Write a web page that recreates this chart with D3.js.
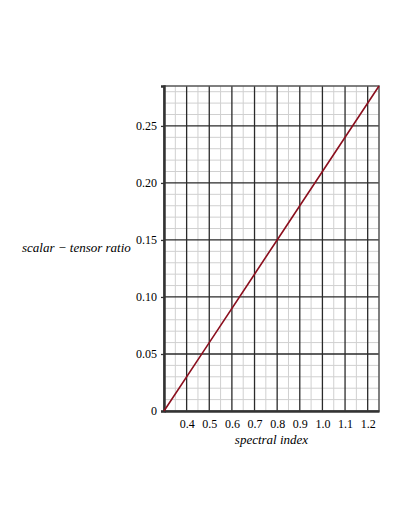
<!DOCTYPE html>
<html>
<head>
<meta charset="utf-8">
<script src="https://cdn.jsdelivr.net/npm/d3@7"></script>
<style>
  body { margin: 0; background: #fff; }
</style>
</head>
<body>
<script>
// spectral index vs scalar-tensor ratio
var spectralIndex = [0.3, 0.5, 0.8, 1.0, 1.25];
var tensorRatio = [0, 0.06, 0.15, 0.21, 0.285];
var xTicks = [0.4, 0.5, 0.6, 0.7, 0.8, 0.9, 1.0, 1.1, 1.2];
var yTicks = [0, 0.05, 0.10, 0.15, 0.20, 0.25];

var w = 409, h = 529;
var pLeft = 164, pRight = 379, pTop = 86, pBottom = 411;
var serif = "'Liberation Serif', 'DejaVu Serif', serif";

var svg = d3.select("body")
    .append("svg")
    .attr("width", w)
    .attr("height", h);

var x = d3.scaleLinear().domain([0.3, 1.25]).range([pLeft, pRight]);
var y = d3.scaleLinear().domain([0, 0.285]).range([pBottom, pTop]);

// minor grid
var xMinor = d3.range(0.35, 1.25, 0.1).map(function(d){ return +d.toFixed(2); });
var yMinor = d3.range(0.01, 0.285, 0.01).map(function(d){ return +d.toFixed(2); })
    .filter(function(d){ return Math.round(d * 100) % 5 != 0; });

svg.append("g").selectAll("line")
    .data(xMinor)
    .enter().append("line")
    .attr("x1", function(d){ return x(d); })
    .attr("x2", function(d){ return x(d); })
    .attr("y1", pTop).attr("y2", pBottom)
    .attr("stroke", "#d0d0d0").attr("stroke-width", 1);

svg.append("g").selectAll("line")
    .data(yMinor)
    .enter().append("line")
    .attr("x1", pLeft).attr("x2", pRight)
    .attr("y1", function(d){ return y(d); })
    .attr("y2", function(d){ return y(d); })
    .attr("stroke", "#d0d0d0").attr("stroke-width", 1);

// major grid
svg.append("g").selectAll("line")
    .data(xTicks)
    .enter().append("line")
    .attr("x1", function(d){ return x(d); })
    .attr("x2", function(d){ return x(d); })
    .attr("y1", pTop).attr("y2", pBottom)
    .attr("stroke", "#2a2a2a").attr("stroke-width", 1.3);

svg.append("g").selectAll("line")
    .data(yTicks.slice(1))
    .enter().append("line")
    .attr("x1", pLeft).attr("x2", pRight)
    .attr("y1", function(d){ return y(d); })
    .attr("y2", function(d){ return y(d); })
    .attr("stroke", "#2a2a2a").attr("stroke-width", 1.3);

// frame
svg.append("rect")
    .attr("x", pLeft).attr("y", pTop)
    .attr("width", pRight - pLeft).attr("height", pBottom - pTop)
    .attr("fill", "none")
    .attr("stroke", "#555").attr("stroke-width", 1.5);

// axes
var xAxis = d3.axisBottom(x).tickValues(xTicks).tickFormat(d3.format(".1f")).tickSize(0).tickPadding(8);
var yAxis = d3.axisLeft(y).tickValues(yTicks)
    .tickFormat(function(d){ return d == 0 ? "0" : d3.format(".2f")(d); })
    .tickSize(3).tickPadding(4);

var gx = svg.append("g")
    .attr("transform", "translate(0," + pBottom + ")")
    .call(xAxis);
var gy = svg.append("g")
    .attr("transform", "translate(" + pLeft + ",0)")
    .call(yAxis);

[gx, gy].forEach(function(g){
    g.select(".domain").attr("stroke", "#333").attr("stroke-width", 2.5);
    g.selectAll(".tick line").attr("stroke", "#333").attr("stroke-width", 1.3);
    g.selectAll("text")
        .attr("fill", "#000")
        .style("font-family", serif)
        .style("font-size", "12px");
});

// curve
svg.append("path")
    .datum(d3.zip(spectralIndex, tensorRatio))
    .attr("fill", "none")
    .attr("stroke", "#8b0f1e")
    .attr("stroke-width", 1.6)
    .attr("d", d3.line()
        .x(function(d){ return x(d[0]); })
        .y(function(d){ return y(d[1]); }));

// labels
svg.append("text")
    .attr("x", (pLeft + pRight) / 2)
    .attr("y", 444)
    .attr("text-anchor", "middle")
    .style("font-family", serif)
    .style("font-style", "italic")
    .style("font-size", "13px")
    .text("spectral index");

svg.append("text")
    .attr("x", 22)
    .attr("y", 252)
    .style("font-family", serif)
    .style("font-style", "italic")
    .style("font-size", "13px")
    .text("scalar \u2212 tensor ratio");
</script>
</body>
</html>
